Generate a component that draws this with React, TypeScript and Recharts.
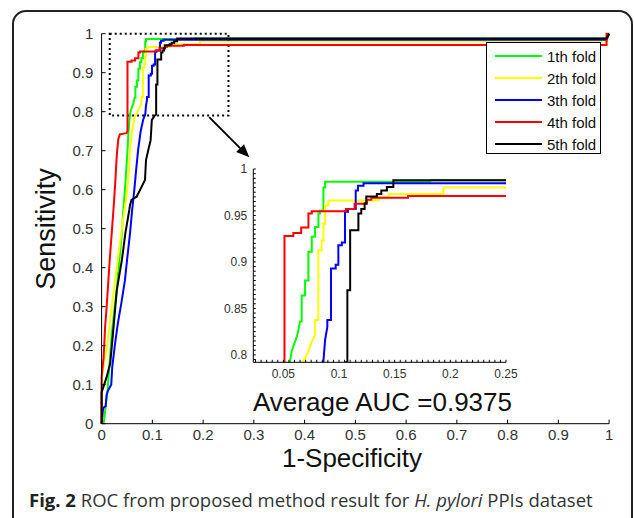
import React from 'react';
import { LineChart, Line, XAxis, YAxis, ReferenceArea, ReferenceLine, Legend } from 'recharts';

// ROC curves, one array per fold: [1-specificity, sensitivity]
const fold1 = [
  [0.004, 0], [0.006, 0.02], [0.008, 0.045], [0.012, 0.09], [0.016, 0.16], [0.02, 0.23], [0.025, 0.29],
  [0.03, 0.345], [0.035, 0.42], [0.04, 0.49], [0.043, 0.55], [0.046, 0.6], [0.049, 0.66], [0.051, 0.7],
  [0.053, 0.75], [0.055, 0.78], [0.056, 0.793], [0.0575, 0.804], [0.0625, 0.821], [0.065, 0.836],
  [0.0665, 0.836], [0.0665, 0.864], [0.0695, 0.864], [0.0695, 0.88], [0.0725, 0.88], [0.0725, 0.911],
  [0.0755, 0.911], [0.0755, 0.927], [0.0785, 0.927], [0.0785, 0.9375], [0.0815, 0.9375], [0.0815, 0.952],
  [0.083, 0.952], [0.083, 0.955], [0.086, 0.955], [0.086, 0.98], [0.0875, 0.98], [0.0875, 0.9862],
  [0.182, 0.9862], [0.182, 0.9878], [0.995, 0.9878], [1, 1],
];
const fold2 = [
  [0, 0], [0.001, 0.12], [0.005, 0.16], [0.01, 0.19], [0.015, 0.245], [0.02, 0.3], [0.027, 0.37],
  [0.035, 0.45], [0.042, 0.52], [0.0475, 0.57], [0.0507, 0.6], [0.054, 0.65], [0.056, 0.7], [0.06, 0.75],
  [0.065, 0.785], [0.068, 0.793], [0.0725, 0.804], [0.0755, 0.814], [0.0785, 0.8214], [0.0785, 0.8375],
  [0.0814, 0.8375], [0.0814, 0.9125], [0.0844, 0.9125], [0.0844, 0.923], [0.086, 0.923], [0.086, 0.941],
  [0.0874, 0.941], [0.0874, 0.9607], [0.0904, 0.9607], [0.0904, 0.966], [0.1355, 0.966], [0.1355, 0.9695],
  [0.1445, 0.9695], [0.1445, 0.973], [0.1937, 0.973], [0.1937, 0.98], [0.995, 0.98], [1, 1],
];
const fold3 = [
  [0, 0], [0.003, 0.04], [0.008, 0.045], [0.01, 0.075], [0.013, 0.086], [0.019, 0.1], [0.021, 0.146],
  [0.026, 0.2], [0.032, 0.257], [0.039, 0.31], [0.046, 0.368], [0.051, 0.43], [0.056, 0.488], [0.06, 0.545],
  [0.0645, 0.6], [0.068, 0.65], [0.072, 0.702], [0.077, 0.75], [0.082, 0.78], [0.086, 0.793],
  [0.0875, 0.816], [0.0895, 0.83], [0.0895, 0.8375], [0.0928, 0.8375], [0.0928, 0.893], [0.097, 0.893],
  [0.097, 0.897], [0.0994, 0.897], [0.0994, 0.918], [0.1025, 0.918], [0.1025, 0.921], [0.1054, 0.921],
  [0.1054, 0.954], [0.108, 0.954], [0.108, 0.957], [0.115, 0.957], [0.115, 0.977], [0.117, 0.977],
  [0.117, 0.982], [0.122, 0.982], [0.122, 0.9846], [0.995, 0.9846], [1, 1],
];
const fold4 = [
  [0, 0], [0, 0.12], [0.004, 0.17], [0.007, 0.25], [0.01, 0.3], [0.013, 0.36], [0.016, 0.42], [0.02, 0.49],
  [0.024, 0.56], [0.027, 0.62], [0.03, 0.69], [0.033, 0.73], [0.036, 0.742], [0.049, 0.745], [0.051, 0.75],
  [0.051, 0.928], [0.059, 0.928], [0.059, 0.931], [0.066, 0.931], [0.066, 0.937], [0.0725, 0.937],
  [0.0725, 0.952], [0.0755, 0.952], [0.0755, 0.9546], [0.1063, 0.9546], [0.1063, 0.957], [0.114, 0.957],
  [0.114, 0.9625], [0.125, 0.9625], [0.125, 0.9668], [0.129, 0.9668], [0.129, 0.969], [0.162, 0.969],
  [0.162, 0.971], [0.995, 0.971], [0.995, 1], [1, 1],
];
const fold5 = [
  [0, 0], [0, 0.08], [0.005, 0.1], [0.01, 0.12], [0.017, 0.155], [0.023, 0.24], [0.03, 0.343], [0.04, 0.42],
  [0.047, 0.49], [0.0546, 0.548], [0.056, 0.561], [0.059, 0.574], [0.069, 0.582], [0.079, 0.608],
  [0.0855, 0.625], [0.0875, 0.676], [0.092, 0.702], [0.0966, 0.727], [0.099, 0.779], [0.1045, 0.79],
  [0.1075, 0.793], [0.1075, 0.8696], [0.11, 0.8696], [0.11, 0.934], [0.1174, 0.934], [0.1174, 0.952],
  [0.12, 0.952], [0.12, 0.957], [0.123, 0.957], [0.123, 0.963], [0.1245, 0.963], [0.1245, 0.9703],
  [0.134, 0.9703], [0.134, 0.973], [0.138, 0.973], [0.138, 0.977], [0.143, 0.977], [0.143, 0.9805],
  [0.1488, 0.9805], [0.1488, 0.9878], [0.995, 0.9878], [1, 1],
];

const foldNames = ['1th fold', '2th fold', '3th fold', '4th fold', '5th fold'];
const foldColors = ['#00ff00', '#ffff00', '#0000ff', '#ff0000', '#000000'];
const folds = [fold1, fold2, fold3, fold4, fold5];

const mainTicks = [0, 0.1, 0.2, 0.3, 0.4, 0.5, 0.6, 0.7, 0.8, 0.9, 1];
const mainLabels = ['0', '0.1', '0.2', '0.3', '0.4', '0.5', '0.6', '0.7', '0.8', '0.9', '1'];
const insetXTicks = [0.05, 0.1, 0.15, 0.2, 0.25];
const insetXLabels = ['0.05', '0.1', '0.15', '0.2', '0.25'];
const insetYTicks = [0.8, 0.85, 0.9, 0.95, 1];
const insetYLabels = ['0.8', '0.85', '0.9', '0.95', '1'];
const insetXDomain = [0.023, 0.25];
const insetYDomain = [0.792, 1];

// zoom window drawn on the main plot and the arrow pointing at the inset
const zoomBox = { x1: 0.016, x2: 0.25, y1: 0.79, y2: 1 };
const arrowFrom = { x: 0.212, y: 0.786 };
const arrowTo = { x: 0.291, y: 0.683 };

const aucText = 'Average AUC =0.9375';

const seriesData = folds.map((f) => f.map(([x, y]) => ({ x, y })));

const minor = (from: number, to: number, step: number) => {
  const out: number[] = [];
  for (let v = from; v <= to + 1e-9; v += step) out.push(Math.round(v * 10000) / 10000);
  return out;
};
const insetXMinor = minor(0.025, 0.25, 0.005);
const insetYMinor = minor(0.795, 1, 0.005);

const labelFor = (ticks: number[], labels: string[]) => (v: number) => {
  const i = ticks.findIndex((t) => Math.abs(t - v) < 1e-6);
  return i >= 0 ? labels[i] : '';
};

const FONT = '"Liberation Sans", Arial, sans-serif';

const Arrow = (props: any) => {
  const { x1, y1, x2, y2 } = props;
  const a = Math.atan2(y2 - y1, x2 - x1);
  const L = 13, W = 5.5;
  const bx = x2 - L * Math.cos(a);
  const by = y2 - L * Math.sin(a);
  const p1 = `${bx + W * Math.sin(a)},${by - W * Math.cos(a)}`;
  const p2 = `${bx - W * Math.sin(a)},${by + W * Math.cos(a)}`;
  return (
    <g>
      <line x1={x1} y1={y1} x2={bx} y2={by} stroke="#000" strokeWidth={2} />
      <polygon points={`${x2},${y2} ${p1} ${p2}`} fill="#000" />
    </g>
  );
};

const LegendBox = ({ payload }: any) => (
  <div style={{ width: 115, height: 112, border: '1px solid #000', background: '#fff', fontFamily: FONT, fontSize: 15, color: '#111', boxSizing: 'border-box', paddingTop: 2 }}>
    {(payload || []).map((p: any) => (
      <div key={p.value} style={{ display: 'flex', alignItems: 'center', height: 22 }}>
        <div style={{ marginLeft: 8, width: 47, height: 2, background: p.color }} />
        <span style={{ marginLeft: 5 }}>{p.value}</span>
      </div>
    ))}
  </div>
);

export default function App() {
  return (
    <div style={{ position: 'absolute', left: 0, top: 0, width: 634, height: 518, overflow: 'hidden', background: '#fff' }}>
      <div style={{ position: 'absolute', left: 12, top: 10, width: 617, height: 560, border: '2px solid #222', borderRadius: 14 }} />

      <div style={{ position: 'absolute', left: 0, top: 0, fontFamily: FONT }}>
        <LineChart width={634} height={518} margin={{ top: 33.7, right: 24.9, bottom: 64.3, left: 61.6 }}>
          <XAxis xAxisId={0} type="number" dataKey="x" domain={[0, 1]} ticks={mainTicks} interval={0}
            tickFormatter={labelFor(mainTicks, mainLabels)} tickSize={-4} tickMargin={10} height={30}
            stroke="#000" tick={{ fontSize: 15, fill: '#333', fontFamily: FONT }} />
          <XAxis xAxisId="top" orientation="top" type="number" domain={[0, 1]} ticks={mainTicks} interval={0}
            tick={false} tickSize={-4} height={0} stroke="#000" />
          <YAxis yAxisId={0} type="number" domain={[0, 1]} ticks={mainTicks} interval={0}
            tickFormatter={labelFor(mainTicks, mainLabels)} tickSize={-4} tickMargin={12.3} width={40}
            stroke="#000" tick={{ fontSize: 15, fill: '#333', fontFamily: FONT }} />
          <YAxis yAxisId="right" orientation="right" type="number" domain={[0, 1]} ticks={mainTicks} interval={0}
            tick={false} tickSize={-4} width={0} stroke="#000" />
          <ReferenceArea x1={zoomBox.x1} x2={zoomBox.x2} y1={zoomBox.y1} y2={zoomBox.y2} fill="none"
            stroke="#000" strokeWidth={2} strokeDasharray="2 3" />
          <ReferenceLine segment={[arrowFrom, arrowTo]} shape={Arrow} />
          {seriesData.map((d, i) => (
            <Line key={foldNames[i]} data={d} dataKey="y" name={foldNames[i]} type="linear" stroke={foldColors[i]}
              strokeWidth={2} dot={false} isAnimationActive={false} />
          ))}
          <Legend layout="horizontal" verticalAlign="middle" align="center" content={LegendBox}
            wrapperStyle={{ left: 486, top: 42, width: 115, height: 112 }} />
        </LineChart>
      </div>

      <div style={{ position: 'absolute', left: 203, top: 150, fontFamily: FONT }}>
        <LineChart width={320} height={240} margin={{ top: 19, right: 17, bottom: 2.7, left: 10.3 }}>
          <XAxis xAxisId={0} type="number" dataKey="x" domain={insetXDomain} allowDataOverflow ticks={insetXMinor}
            interval={0} tickFormatter={labelFor(insetXTicks, insetXLabels)} tickSize={-2.5} tickMargin={10}
            height={25} stroke="#000" tick={{ fontSize: 12, fill: '#333', fontFamily: FONT }} />
          <XAxis xAxisId="top" orientation="top" type="number" domain={insetXDomain} allowDataOverflow
            ticks={insetXMinor} interval={0} tick={false} tickSize={-2.5} height={0} stroke="#000" />
          <YAxis yAxisId={0} type="number" domain={insetYDomain} allowDataOverflow ticks={insetYMinor} interval={0}
            tickFormatter={labelFor(insetYTicks, insetYLabels)} tickSize={-2.5} tickMargin={8.5} width={40}
            stroke="#000" tick={{ fontSize: 12, fill: '#333', fontFamily: FONT }} />
          <YAxis yAxisId="right" orientation="right" type="number" domain={insetYDomain} allowDataOverflow
            ticks={insetYMinor} interval={0} tick={false} tickSize={-2.5} width={0} stroke="#000" />
          {seriesData.map((d, i) => (
            <Line key={foldNames[i]} data={d} dataKey="y" name={foldNames[i]} type="linear" stroke={foldColors[i]}
              strokeWidth={2} dot={false} isAnimationActive={false} />
          ))}
        </LineChart>
      </div>

      <svg width={634} height={518} style={{ position: 'absolute', left: 0, top: 0, pointerEvents: 'none' }}>
        <text x={55} y={229} transform="rotate(-90, 55, 229)" textAnchor="middle" fontFamily={FONT} fontSize={27} fill="#111">
          Sensitivity
        </text>
        <text x={352} y={467} textAnchor="middle" fontFamily={FONT} fontSize={26} fill="#111">1-Specificity</text>
        <text x={253} y={411} fontFamily={FONT} fontSize={26} fill="#111">{aucText}</text>
      </svg>

      <div style={{ position: 'absolute', left: 29, top: 487, fontFamily: '"Open Sans", "Noto Sans", sans-serif', fontSize: 18.5, color: '#333', whiteSpace: 'nowrap' }}>
        <b style={{ color: '#222' }}>Fig. 2</b> ROC from proposed method result for <i>H. pylori</i> PPIs dataset
      </div>
    </div>
  );
}
